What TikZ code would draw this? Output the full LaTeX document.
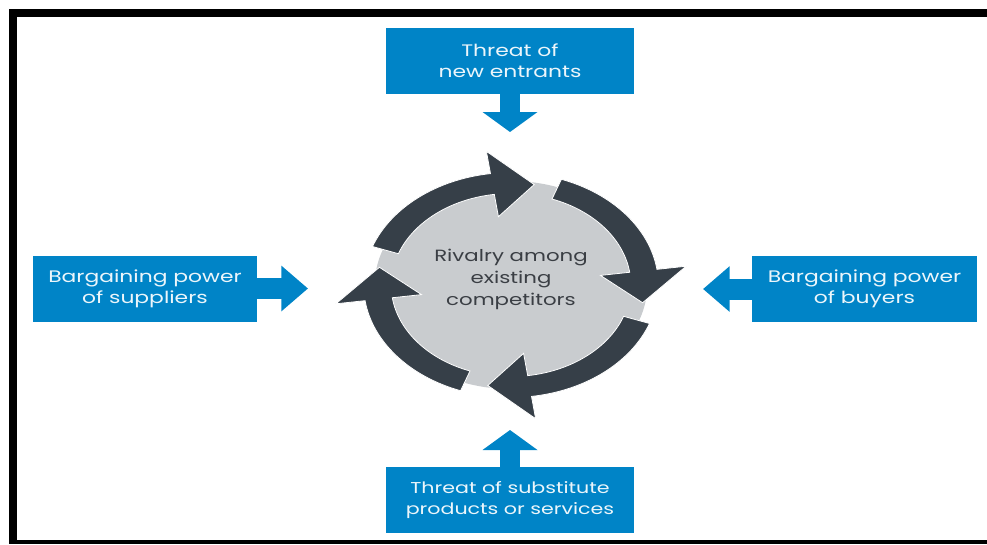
\documentclass[tikz,border=0pt]{standalone}
\usepackage{fontspec}
\setmainfont{Poppins}
\usetikzlibrary{arrows.meta}

\tikzset{
  wide/.style={xscale=1.31, yscale=-1, transform shape},
  force/.style={color={rgb, 255:red, 236; green, 246; blue, 251 }, fill={rgb, 255:red, 0; green, 132; blue, 199 }, align=center, inner sep=0pt, font=\fontsize{12.5}{15.75}\selectfont, wide, minimum height=49.5pt},
  vpush/.style={color={rgb, 255:red, 0; green, 132; blue, 199 }, line width=15pt, -{Triangle[width=40.5pt,length=15pt]}},
  hpush/.style={color={rgb, 255:red, 0; green, 132; blue, 199 }, line width=15.75pt, -{Triangle[width=33pt,length=20pt]}},
  cycarrow/.style={fill={rgb, 255:red, 54; green, 63; blue, 72 }, draw=white, line width=0.6pt},
}

\begin{document}
\begin{tikzpicture}[x=0.75pt,y=0.75pt,yscale=-1,xscale=1]
\useasboundingbox (0,0) rectangle (987,544);

%Shape: Frame
\draw [line width=5.8pt] (987,12.8) -- (12.8,12.8) -- (12.8,542) ;
\draw [line width=3pt] (9,542) -- (987,542) ;

%Shape: Disc and ring
\begin{scope}[shift={(511,285)}, xscale=1.31, yscale=-1]
\fill [fill={rgb, 255:red, 201; green, 204; blue, 207 }] (0,0) circle (104);
% upper left arc
\filldraw [cycarrow] (160:112.5) arc[start angle=160, end angle=98, radius=112.5] -- (98:135) -- (80:102) -- (98:69) -- (98:91.5) arc[start angle=98, end angle=160, radius=91.5] -- cycle;
% upper right arc
\filldraw [cycarrow] (70:112.5) arc[start angle=70, end angle=8, radius=112.5] -- (8:135) -- (-10:102) -- (8:69) -- (8:91.5) arc[start angle=8, end angle=70, radius=91.5] -- cycle;
% lower right arc
\filldraw [cycarrow] (-20:112.5) arc[start angle=-20, end angle=-82, radius=112.5] -- (-82:135) -- (-100:102) -- (-82:69) -- (-82:91.5) arc[start angle=-82, end angle=-20, radius=91.5] -- cycle;
% lower left arc
\filldraw [cycarrow] (-110:112.5) arc[start angle=-110, end angle=-172, radius=112.5] -- (-172:135) -- (-190:102) -- (-172:69) -- (-172:91.5) arc[start angle=-172, end angle=-110, radius=91.5] -- cycle;
\end{scope}

% Text Node
\node (rivalry) at (511,279) [align=center, inner sep=0pt, color={rgb, 255:red, 58; green, 62; blue, 68 }, font=\fontsize{12.2}{16.5}\selectfont, wide] {Rivalry among\\existing\\competitors};

% Text Node
\node (entrants) at (510,61) [force, minimum width=142pt] {Threat of\\new entrants};
% Text Node
\node (substitutes) at (510,500) [force, minimum width=142pt, font=\fontsize{11.8}{15.75}\selectfont] {Threat of substitute\\products or services};
% Text Node
\node (suppliers) at (145,288.5) [force, minimum width=128pt] {Bargaining power\\of suppliers};
% Text Node
\node (buyers) at (864.5,289) [force, minimum width=129pt] {Bargaining power\\of buyers};

\coordinate (topin) at (510,132);
\coordinate (botin) at (510,430);
\coordinate (leftin) at (308,288.5);
\coordinate (rightin) at (703,289);

%Arrows
\draw [vpush] (entrants.south) -- (topin);
\draw [vpush] (substitutes.north) -- (botin);
\draw [hpush] (suppliers.east) -- (leftin);
\draw [hpush] (buyers.west) -- (rightin);

\end{tikzpicture}
\end{document}
